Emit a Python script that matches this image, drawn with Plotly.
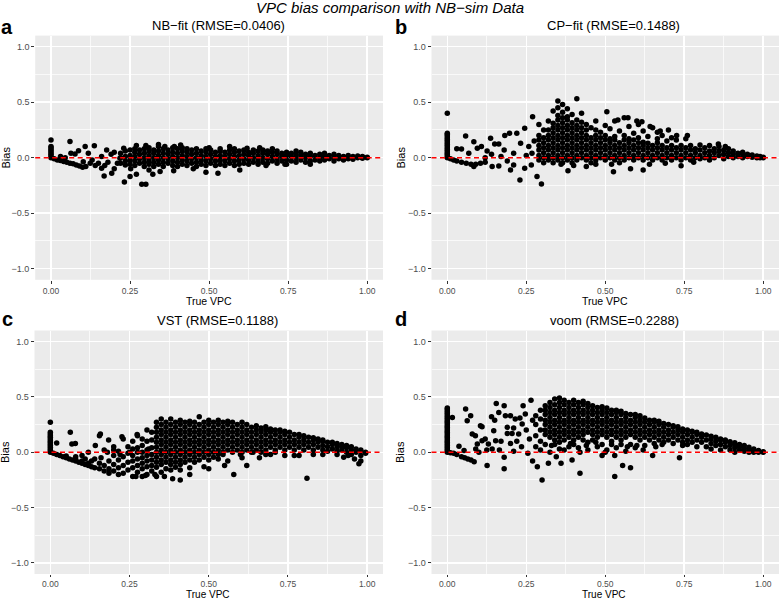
import plotly.graph_objects as go

FIG_TITLE = "VPC bias comparison with NB−sim Data"
PANEL_TITLES = ["NB−fit (RMSE=0.0406)", "CP−fit (RMSE=0.1488)",
                "VST (RMSE=0.1188)", "voom (RMSE=0.2288)"]
PANEL_LETTERS = ["a", "b", "c", "d"]
X_LABEL = "True VPC"
Y_LABEL = "Bias"
X_TICKS = [0, 0.25, 0.5, 0.75, 1.0]
X_TICK_LABELS = ["0.00", "0.25", "0.50", "0.75", "1.00"]
Y_TICKS = [-1, -0.5, 0, 0.5, 1]
Y_TICK_LABELS = ["−1.0", "−0.5", "0.0", "0.5", "1.0"]

# ---------------- panel a: NB-fit ----------------
NB_ZERO_Y = [0.0, 0.015, 0.03, 0.045, 0.06, 0.075, 0.09, 0.1, 0.16]
NB_POINTS = [
    (0.01, -0.01), (0.02, -0.02), (0.03, -0.025), (0.04, -0.035), (0.05, -0.04), (0.06, -0.05),
    (0.07, -0.055), (0.08, -0.065), (0.09, -0.075), (0.1, -0.085), (0.11, -0.08),
    (0.06, 0.145), (0.108, 0.1), (0.137, 0.108), (0.076, 0.033), (0.087, 0.063), (0.063, 0.04),
    (0.03, 0.01), (0.045, 0.0), (0.118, 0.04), (0.176, 0.07), (0.2, 0.05), (0.23, 0.085),
    (0.27, 0.11), (0.3, 0.11), (0.34, 0.12), (0.41, 0.115), (0.565, 0.1), (0.62, 0.085),
    (0.168, -0.165), (0.192, -0.14), (0.2, -0.1), (0.232, -0.22), (0.25, -0.17), (0.27, -0.15),
    (0.287, -0.24), (0.3, -0.24), (0.252, -0.1), (0.322, -0.15), (0.31, -0.11), (0.345, -0.125),
    (0.388, -0.117), (0.49, -0.13), (0.528, -0.14), (0.597, -0.11), (0.16, -0.095), (0.15, -0.05),
    (0.124, -0.05), (0.102, -0.036), (0.218, -0.005), (0.235, -0.066), (0.13, -0.02), (0.14, -0.07),
    (0.18, -0.04), (0.19, 0.03), (0.16, 0.01), (0.21, -0.05), (0.17, -0.07), (0.74, -0.06),
    (0.82, -0.06), (0.68, -0.07), (0.45, -0.1), (0.36, 0.1), (0.39, 0.1), (0.5, 0.09),
    (0.7, 0.08), (0.66, 0.09),
]
NB_COLS = [
    (0.22, [-0.05, 0.0, 0.04]), (0.235, [-0.03, 0.01, 0.06]), (0.25, [-0.06, -0.02, 0.02, 0.07]),
    (0.265, [-0.07, -0.03, 0.01, 0.05, 0.08]), (0.28, [-0.05, -0.01, 0.03, 0.07]),
    (0.295, [-0.08, -0.04, 0.0, 0.04, 0.08]), (0.31, [-0.06, -0.02, 0.02, 0.06, 0.09]),
    (0.325, [-0.08, -0.04, 0.0, 0.04, 0.07]), (0.34, [-0.06, -0.02, 0.02, 0.06, 0.1]),
    (0.355, [-0.08, -0.04, 0.0, 0.04, 0.08]), (0.37, [-0.05, -0.01, 0.03, 0.07]),
    (0.385, [-0.07, -0.03, 0.01, 0.05, 0.09]), (0.4, [-0.08, -0.04, 0.0, 0.04, 0.08]),
    (0.415, [-0.06, -0.02, 0.02, 0.06, 0.09]), (0.43, [-0.07, -0.03, 0.01, 0.05, 0.08]),
    (0.445, [-0.05, -0.01, 0.03, 0.07]), (0.46, [-0.08, -0.04, 0.0, 0.04, 0.08]),
    (0.475, [-0.06, -0.02, 0.02, 0.06]), (0.49, [-0.07, -0.03, 0.01, 0.05, 0.08]),
    (0.505, [-0.05, -0.01, 0.03, 0.07]), (0.52, [-0.07, -0.03, 0.01, 0.05]),
    (0.535, [-0.06, -0.02, 0.02, 0.06, 0.08]), (0.55, [-0.07, -0.03, 0.01, 0.05]),
    (0.565, [-0.05, -0.01, 0.03, 0.07]), (0.58, [-0.07, -0.03, 0.01, 0.05, 0.08]),
    (0.595, [-0.06, -0.02, 0.02, 0.06]), (0.61, [-0.05, -0.01, 0.03, 0.07]),
    (0.625, [-0.06, -0.02, 0.02, 0.05]), (0.64, [-0.04, 0.0, 0.04, 0.07]),
    (0.655, [-0.06, -0.02, 0.02, 0.06]), (0.67, [-0.04, 0.0, 0.04, 0.07]),
    (0.685, [-0.05, -0.01, 0.03, 0.06]), (0.7, [-0.03, 0.01, 0.05]),
    (0.715, [-0.05, -0.01, 0.03, 0.06]), (0.73, [-0.03, 0.01, 0.04]),
    (0.745, [-0.06, -0.02, 0.02, 0.05]), (0.76, [-0.03, 0.01, 0.04]),
    (0.775, [-0.04, 0.0, 0.03, 0.06]), (0.79, [-0.02, 0.02, 0.05]),
    (0.805, [-0.04, 0.0, 0.03]), (0.82, [-0.03, 0.01, 0.04]), (0.835, [-0.02, 0.02]),
    (0.85, [-0.03, 0.0, 0.03]), (0.865, [-0.02, 0.01, 0.04]), (0.88, [-0.01, 0.02]),
    (0.895, [-0.03, 0.0, 0.03]), (0.91, [-0.01, 0.02]), (0.925, [-0.02, 0.01]),
    (0.94, [-0.01, 0.02]), (0.955, [-0.015, 0.01]), (0.97, [0.0, 0.015]),
    (0.985, [-0.005, 0.01]), (1.0, [0.0, 0.005]),
]

# ---------------- panel b: CP-fit ----------------
CP_ZERO_Y = [0.0, 0.015, 0.03, 0.045, 0.06, 0.075, 0.09, 0.105, 0.12, 0.135, 0.15, 0.165,
             0.18, 0.195, 0.21, 0.22, 0.4]
CP_POINTS = [
    (0.01, -0.01), (0.02, -0.02), (0.03, -0.03), (0.045, -0.04), (0.06, -0.05), (0.075, -0.06),
    (0.09, -0.06), (0.105, -0.05), (0.12, -0.04),
    (0.03, 0.08), (0.045, 0.078), (0.058, 0.195), (0.084, 0.144), (0.068, 0.04), (0.095, 0.085),
    (0.108, 0.1), (0.126, 0.06), (0.137, 0.175), (0.15, 0.123), (0.163, 0.123), (0.182, 0.2),
    (0.197, 0.22), (0.22, 0.22), (0.245, 0.265), (0.27, 0.37), (0.29, 0.3), (0.284, -0.17),
    (0.298, -0.237), (0.23, -0.2), (0.245, -0.096), (0.21, -0.066), (0.2, -0.11), (0.163, -0.075),
    (0.142, -0.08), (0.084, -0.08), (0.21, 0.04), (0.232, 0.13), (0.258, 0.1), (0.268, 0.04),
    (0.266, -0.066), (0.382, -0.117), (0.526, -0.126), (0.62, -0.11), (0.74, -0.072),
    (0.505, 0.415), (0.54, 0.34), (0.572, 0.36), (0.6, 0.33), (0.616, 0.325), (0.642, 0.28),
    (0.674, 0.24), (0.7, 0.25), (0.726, 0.2), (0.76, 0.2), (0.8, 0.114), (0.858, 0.123),
    (0.88, 0.1), (0.18, 0.07), (0.17, 0.01), (0.14, 0.03), (0.12, 0.0), (0.19, -0.03),
    (0.25, 0.02), (0.275, 0.15), (0.44, -0.08), (0.47, -0.06), (0.58, -0.1), (0.36, -0.06),
    (0.4, -0.07), (0.52, -0.06), (0.64, -0.06), (0.69, -0.05), (0.78, -0.04),
]
CP_COLS = [
    (0.29, [-0.02, 0.02, 0.07, 0.11, 0.16, 0.2]),
    (0.305, [-0.045, 0.0, 0.045, 0.09, 0.135, 0.18, 0.25]),
    (0.32, [-0.02, 0.02, 0.07, 0.11, 0.16, 0.2, 0.25, 0.33]),
    (0.335, [-0.045, 0.0, 0.045, 0.09, 0.135, 0.18, 0.225, 0.27, 0.31, 0.42]),
    (0.35, [-0.02, 0.02, 0.07, 0.11, 0.16, 0.2, 0.25, 0.29, 0.34, 0.38, 0.45, 0.51]),
    (0.365, [-0.045, 0.0, 0.045, 0.09, 0.135, 0.18, 0.225, 0.27, 0.315, 0.36, 0.41, 0.48]),
    (0.38, [-0.02, 0.02, 0.07, 0.11, 0.16, 0.2, 0.25, 0.29, 0.34, 0.37, 0.44]),
    (0.395, [-0.045, 0.0, 0.045, 0.09, 0.135, 0.18, 0.225, 0.27, 0.315, 0.39]),
    (0.41, [-0.02, 0.02, 0.07, 0.11, 0.16, 0.2, 0.25, 0.29, 0.34, 0.53]),
    (0.425, [0.0, 0.045, 0.09, 0.135, 0.18, 0.225, 0.27, 0.32, 0.4]),
    (0.44, [-0.02, 0.02, 0.07, 0.11, 0.16, 0.2, 0.25, 0.3]),
    (0.455, [-0.045, 0.0, 0.045, 0.09, 0.135, 0.18, 0.27]),
    (0.47, [-0.02, 0.02, 0.07, 0.11, 0.16, 0.2, 0.25, 0.33]),
    (0.485, [0.0, 0.045, 0.09, 0.135, 0.18, 0.23]),
    (0.5, [-0.02, 0.02, 0.07, 0.11, 0.16, 0.2, 0.29]),
    (0.515, [0.0, 0.045, 0.09, 0.135, 0.17, 0.26]),
    (0.53, [-0.02, 0.02, 0.07, 0.11, 0.16, 0.19, 0.33]),
    (0.545, [-0.045, 0.0, 0.045, 0.09, 0.135, 0.24]),
    (0.56, [-0.02, 0.02, 0.07, 0.11, 0.16, 0.2, 0.36]),
    (0.575, [0.0, 0.045, 0.09, 0.135, 0.17, 0.28]),
    (0.59, [-0.02, 0.02, 0.07, 0.11, 0.16, 0.22]),
    (0.605, [0.0, 0.045, 0.09, 0.135, 0.18, 0.3]),
    (0.62, [-0.02, 0.02, 0.07, 0.11, 0.14, 0.24]),
    (0.635, [0.0, 0.045, 0.09, 0.13, 0.19]),
    (0.65, [-0.02, 0.02, 0.07, 0.11, 0.27]),
    (0.665, [0.0, 0.045, 0.09, 0.135, 0.17, 0.23]),
    (0.68, [-0.02, 0.02, 0.07, 0.11, 0.2]),
    (0.695, [0.0, 0.045, 0.09, 0.15]),
    (0.71, [-0.02, 0.02, 0.07, 0.11, 0.18]),
    (0.725, [0.0, 0.045, 0.09, 0.16]),
    (0.74, [-0.02, 0.02, 0.07, 0.11]),
    (0.755, [0.0, 0.045, 0.09, 0.17]),
    (0.77, [-0.02, 0.02, 0.07, 0.11]),
    (0.785, [0.0, 0.045, 0.08]),
    (0.8, [-0.01, 0.02, 0.07]),
    (0.815, [0.0, 0.045, 0.09]),
    (0.83, [-0.02, 0.02, 0.06, 0.11]),
    (0.845, [0.0, 0.045, 0.08]),
    (0.86, [0.02, 0.06, 0.1]),
    (0.875, [-0.01, 0.03, 0.07]),
    (0.89, [0.01, 0.045, 0.08]),
    (0.905, [0.0, 0.03, 0.06]),
    (0.92, [0.01, 0.04]),
    (0.935, [0.0, 0.03, 0.05]),
    (0.95, [0.01, 0.03]),
    (0.965, [0.005, 0.025]),
    (0.98, [0.0, 0.015]),
    (0.99, [0.0, 0.01]),
    (1.0, [0.0, 0.005]),
]

# ---------------- panel c: VST ----------------
VST_ZERO_Y = [0.0, 0.015, 0.03, 0.045, 0.06, 0.075, 0.09, 0.105, 0.12, 0.135, 0.15, 0.165,
              0.18, 0.27]
VST_POINTS = [
    (0.01, -0.01), (0.02, -0.02), (0.03, -0.03), (0.04, -0.04), (0.05, -0.05), (0.06, -0.06),
    (0.07, -0.07), (0.08, -0.08), (0.09, -0.09), (0.1, -0.1), (0.11, -0.11), (0.12, -0.12),
    (0.13, -0.13), (0.14, -0.14), (0.05, -0.035), (0.08, -0.065), (0.1, -0.08), (0.12, -0.1),
    (0.02, 0.084), (0.063, 0.18), (0.068, 0.075), (0.079, 0.08), (0.158, 0.165), (0.184, 0.11),
    (0.226, 0.14), (0.274, 0.16), (0.142, 0.06), (0.41, -0.25), (0.386, -0.24), (0.81, -0.234),
    (0.579, -0.2), (0.62, -0.12), (0.974, -0.105), (0.98, -0.08), (0.926, -0.045), (0.5, -0.15),
    (0.12, 0.0), (0.1, -0.03), (0.08, -0.04), (0.13, -0.08), (0.11, -0.06), (0.16, -0.05),
    (0.18, 0.0), (0.2, 0.02), (0.22, -0.02), (0.25, 0.0), (0.29, 0.12), (0.31, 0.03),
    (0.44, -0.2), (0.36, -0.22), (0.33, -0.2), (0.27, -0.22), (0.3, -0.21), (0.71, 0.0),
    (0.77, -0.03), (0.86, -0.02), (0.68, -0.02), (0.66, -0.05), (0.55, -0.12), (0.64, 0.0),
    (0.6, -0.02), (0.96, -0.06), (0.94, -0.03), (0.14, -0.06), (0.155, -0.15), (0.155, -0.1),
    (0.155, 0.15), (0.17, -0.17), (0.17, -0.12), (0.17, 0.02), (0.185, -0.19), (0.185, -0.15),
    (0.185, -0.08),
]
VST_COLS = [
    (0.2, [-0.17, -0.11, -0.03, 0.05]), (0.215, [-0.2, -0.14, -0.07, 0.01]),
    (0.23, [-0.19, -0.12, -0.04, 0.12]), (0.245, [-0.16, -0.09, -0.01, 0.05]),
    (0.26, [-0.22, -0.14, -0.08, -0.03, 0.03, 0.1]),
    (0.275, [-0.18, -0.12, -0.06, 0.0, 0.04, 0.15]),
    (0.29, [-0.22, -0.15, -0.1, -0.05, 0.0, 0.06]),
    (0.305, [-0.2, -0.13, -0.08, -0.03, 0.02, 0.1, 0.2]),
    (0.32, [-0.17, -0.12, -0.07, -0.02, 0.04, 0.11, 0.18]),
    (0.335, [-0.22, -0.135, -0.09, -0.045, 0.0, 0.045, 0.09, 0.135, 0.18, 0.225, 0.27]),
    (0.35, [-0.18, -0.11, -0.07, -0.02, 0.02, 0.07, 0.11, 0.16, 0.2, 0.25, 0.3]),
    (0.365, [-0.15, -0.09, -0.045, 0.0, 0.045, 0.09, 0.135, 0.18, 0.225, 0.27]),
    (0.38, [-0.16, -0.11, -0.07, -0.02, 0.02, 0.07, 0.11, 0.16, 0.2, 0.25, 0.3]),
    (0.395, [-0.135, -0.09, -0.045, 0.0, 0.045, 0.09, 0.135, 0.18, 0.225, 0.27]),
    (0.41, [-0.16, -0.11, -0.07, -0.02, 0.02, 0.07, 0.11, 0.16, 0.2, 0.25, 0.29]),
    (0.425, [-0.09, -0.045, 0.0, 0.045, 0.09, 0.135, 0.18, 0.225, 0.27]),
    (0.44, [-0.14, -0.07, -0.02, 0.02, 0.07, 0.11, 0.16, 0.2, 0.25, 0.28]),
    (0.455, [-0.09, -0.045, 0.0, 0.045, 0.09, 0.135, 0.18, 0.225, 0.27]),
    (0.47, [-0.07, -0.02, 0.02, 0.07, 0.11, 0.16, 0.2, 0.25, 0.32]),
    (0.485, [-0.13, -0.045, 0.0, 0.045, 0.09, 0.135, 0.18, 0.225, 0.27]),
    (0.5, [-0.07, -0.02, 0.02, 0.07, 0.11, 0.16, 0.2, 0.25, 0.29]),
    (0.515, [-0.045, 0.0, 0.045, 0.09, 0.135, 0.18, 0.225, 0.27]),
    (0.53, [-0.06, -0.02, 0.02, 0.07, 0.11, 0.16, 0.2, 0.25, 0.29]),
    (0.545, [-0.02, 0.0, 0.045, 0.09, 0.135, 0.18, 0.225, 0.27]),
    (0.56, [-0.08, 0.02, 0.07, 0.11, 0.16, 0.2, 0.25, 0.28]),
    (0.575, [0.0, 0.045, 0.09, 0.135, 0.18, 0.225, 0.27]),
    (0.59, [0.02, 0.07, 0.11, 0.16, 0.2, 0.25]),
    (0.605, [-0.05, 0.0, 0.045, 0.09, 0.135, 0.18, 0.225, 0.27]),
    (0.62, [0.02, 0.07, 0.11, 0.16, 0.2, 0.25]),
    (0.635, [0.0, 0.045, 0.09, 0.135, 0.18, 0.225]),
    (0.65, [0.02, 0.07, 0.11, 0.16, 0.2, 0.24]),
    (0.665, [0.0, 0.045, 0.09, 0.135, 0.18, 0.22]),
    (0.68, [0.02, 0.07, 0.11, 0.16, 0.2, 0.23]),
    (0.695, [-0.02, 0.045, 0.09, 0.135, 0.18, 0.21]),
    (0.71, [0.02, 0.07, 0.11, 0.16, 0.2]),
    (0.725, [0.045, 0.09, 0.135, 0.18, 0.2]),
    (0.74, [-0.03, 0.02, 0.07, 0.11, 0.16, 0.19]),
    (0.755, [0.045, 0.09, 0.135, 0.18]),
    (0.77, [0.02, 0.07, 0.11, 0.16]),
    (0.785, [-0.03, 0.045, 0.09, 0.135, 0.16]),
    (0.8, [0.02, 0.07, 0.11, 0.15]),
    (0.815, [0.045, 0.09, 0.135]),
    (0.83, [-0.02, 0.02, 0.07, 0.11, 0.13]),
    (0.845, [0.045, 0.09, 0.12]),
    (0.86, [0.02, 0.06, 0.1, 0.11]),
    (0.875, [0.01, 0.05, 0.09]),
    (0.89, [0.03, 0.07, 0.09]),
    (0.905, [-0.02, 0.01, 0.05, 0.08]),
    (0.92, [0.02, 0.05, 0.07]),
    (0.935, [0.0, 0.04, 0.06]),
    (0.95, [-0.02, 0.02, 0.05]),
    (0.965, [0.0, 0.03]),
    (0.98, [-0.03, 0.01, 0.02]),
    (0.995, [-0.01, 0.0]),
]

# ---------------- panel d: voom ----------------
VOOM_ZERO_Y = [0.0, 0.015, 0.03, 0.045, 0.06, 0.075, 0.09, 0.105, 0.12, 0.135, 0.15, 0.165,
               0.18, 0.195, 0.21, 0.225, 0.24, 0.255, 0.27, 0.285, 0.3, 0.315, 0.33, 0.345,
               0.36, 0.375, 0.39, 0.4]
VOOM_POINTS = [
    (0.016, 0.315), (0.058, 0.39), (0.063, 0.285), (0.074, 0.33), (0.037, 0.054), (0.053, 0.015),
    (0.02, -0.01), (0.01, -0.005), (0.03, -0.02), (0.045, -0.04), (0.055, -0.05), (0.065, -0.06),
    (0.075, -0.07), (0.085, -0.085), (0.079, 0.165), (0.089, 0.15), (0.095, 0.075), (0.105, 0.24),
    (0.11, 0.105), (0.12, 0.12), (0.126, -0.12), (0.13, 0.075), (0.142, 0.03), (0.155, 0.44),
    (0.18, 0.42), (0.163, 0.36), (0.147, 0.195), (0.153, 0.105), (0.17, 0.1), (0.18, -0.045),
    (0.18, -0.15), (0.165, 0.02), (0.19, 0.225), (0.184, 0.33), (0.2, 0.08), (0.205, 0.17),
    (0.21, 0.01), (0.215, 0.3), (0.226, 0.165), (0.237, 0.255), (0.247, 0.345), (0.22, 0.1),
    (0.235, 0.05), (0.25, 0.2), (0.255, -0.01), (0.265, 0.47), (0.27, 0.29), (0.26, 0.12),
    (0.27, -0.08), (0.285, -0.13), (0.3, -0.25), (0.32, -0.1), (0.36, -0.1), (0.345, -0.04),
    (0.395, -0.07), (0.42, -0.19), (0.53, -0.22), (0.555, -0.12), (0.58, -0.14), (0.735, -0.05),
    (0.65, -0.03), (0.42, 0.0), (0.37, 0.02), (0.53, -0.03), (0.5, 0.0), (0.6, 0.06),
    (0.62, 0.02), (0.66, 0.05), (0.68, 0.07), (0.57, 0.05), (0.125, 0.02), (0.1, 0.0),
    (0.09, 0.03), (0.11, 0.23), (0.14, 0.32), (0.2, 0.33), (0.23, 0.31), (0.24, 0.42),
    (0.19, 0.17), (0.21, 0.22), (0.15, 0.29), (0.44, 0.06), (0.47, 0.09), (0.52, 0.1),
    (0.55, 0.07), (0.39, 0.08), (0.33, 0.06),
]
VOOM_COLS = [
    (0.28, [0.05, 0.15, 0.25, 0.33]),
    (0.295, [0.02, 0.1, 0.2, 0.3, 0.38]),
    (0.31, [0.07, 0.16, 0.2, 0.25, 0.29, 0.34, 0.38, 0.42]),
    (0.325, [0.0, 0.135, 0.18, 0.225, 0.27, 0.315, 0.36, 0.405, 0.45]),
    (0.34, [0.07, 0.11, 0.16, 0.2, 0.25, 0.29, 0.34, 0.38, 0.43, 0.48]),
    (0.355, [0.03, 0.09, 0.135, 0.18, 0.225, 0.27, 0.315, 0.36, 0.405, 0.45, 0.49]),
    (0.37, [0.11, 0.16, 0.2, 0.25, 0.29, 0.34, 0.38, 0.43, 0.47]),
    (0.385, [0.05, 0.135, 0.18, 0.225, 0.27, 0.315, 0.36, 0.405, 0.45]),
    (0.4, [0.07, 0.11, 0.16, 0.2, 0.25, 0.29, 0.34, 0.38, 0.43, 0.47]),
    (0.415, [0.04, 0.135, 0.18, 0.225, 0.27, 0.315, 0.36, 0.405, 0.45]),
    (0.43, [0.11, 0.16, 0.2, 0.25, 0.29, 0.34, 0.38, 0.43, 0.46]),
    (0.445, [0.02, 0.09, 0.18, 0.225, 0.27, 0.315, 0.36, 0.405, 0.44]),
    (0.46, [0.11, 0.16, 0.2, 0.25, 0.29, 0.34, 0.38, 0.42]),
    (0.475, [0.05, 0.135, 0.18, 0.225, 0.27, 0.315, 0.36, 0.405]),
    (0.49, [-0.03, 0.07, 0.16, 0.2, 0.25, 0.29, 0.34, 0.38, 0.41]),
    (0.505, [0.02, 0.135, 0.18, 0.225, 0.27, 0.315, 0.36, 0.4]),
    (0.52, [0.07, 0.16, 0.2, 0.25, 0.29, 0.34, 0.38]),
    (0.535, [0.04, 0.135, 0.18, 0.225, 0.27, 0.315, 0.36, 0.38]),
    (0.55, [0.11, 0.16, 0.2, 0.25, 0.29, 0.34, 0.37]),
    (0.565, [0.01, 0.135, 0.18, 0.225, 0.27, 0.315, 0.35]),
    (0.58, [0.07, 0.16, 0.2, 0.25, 0.29, 0.34]),
    (0.595, [0.04, 0.135, 0.18, 0.225, 0.27, 0.315, 0.34]),
    (0.61, [0.11, 0.16, 0.2, 0.25, 0.29, 0.33]),
    (0.625, [0.06, 0.135, 0.18, 0.225, 0.27, 0.31]),
    (0.64, [0.11, 0.16, 0.2, 0.25, 0.29]),
    (0.655, [0.08, 0.135, 0.18, 0.225, 0.27, 0.29]),
    (0.67, [0.11, 0.16, 0.2, 0.25, 0.28]),
    (0.685, [0.09, 0.135, 0.18, 0.225, 0.26]),
    (0.7, [0.11, 0.16, 0.2, 0.25]),
    (0.715, [0.08, 0.135, 0.18, 0.225, 0.24]),
    (0.73, [0.11, 0.16, 0.2, 0.23]),
    (0.745, [0.06, 0.09, 0.135, 0.18, 0.21]),
    (0.76, [0.07, 0.11, 0.16, 0.2]),
    (0.775, [0.09, 0.135, 0.18, 0.19]),
    (0.79, [0.05, 0.11, 0.16, 0.18]),
    (0.805, [0.09, 0.135, 0.165]),
    (0.82, [0.05, 0.11, 0.155]),
    (0.835, [0.03, 0.08, 0.12, 0.145]),
    (0.85, [0.06, 0.1, 0.135]),
    (0.865, [0.02, 0.07, 0.11, 0.12]),
    (0.88, [0.05, 0.09, 0.11]),
    (0.895, [0.02, 0.06, 0.095]),
    (0.91, [0.0, 0.04, 0.07, 0.085]),
    (0.925, [0.02, 0.05, 0.07]),
    (0.94, [0.01, 0.035, 0.06]),
    (0.955, [0.0, 0.02, 0.045]),
    (0.97, [0.0, 0.02, 0.03]),
    (0.985, [0.0, 0.01, 0.015]),
    (1.0, [0.0, 0.005]),
]

PANELS = [
    (NB_ZERO_Y, NB_POINTS, NB_COLS),
    (CP_ZERO_Y, CP_POINTS, CP_COLS),
    (VST_ZERO_Y, VST_POINTS, VST_COLS),
    (VOOM_ZERO_Y, VOOM_POINTS, VOOM_COLS),
]

W, H = 779, 601
FONT = "Liberation Sans, Arial, Helvetica, sans-serif"

# pixel geometry of the four panels (left, right, top, bottom)
BOXES = [
    (35.2, 383.0, 35.6, 279.8),
    (431.5, 779.0, 35.6, 279.8),
    (34.5, 383.0, 330.5, 574.0),
    (431.5, 779.0, 330.5, 574.0),
]

fig = go.Figure()
for i, (zero_y, pts, cols) in enumerate(PANELS):
    xs, ys = [], []
    for yv in zero_y:
        xs.append(0.0)
        ys.append(yv)
    for xv, yv in pts:
        xs.append(xv)
        ys.append(yv)
    for xv, ylist in cols:
        for yv in ylist:
            xs.append(xv)
            ys.append(yv)
    sfx = "" if i == 0 else str(i + 1)
    fig.add_trace(go.Scatter(
        x=xs, y=ys, mode="markers", xaxis="x" + sfx, yaxis="y" + sfx,
        marker=dict(color="black", size=5.5, line=dict(width=0)),
        showlegend=False, hoverinfo="skip"))

layout = dict(
    width=W, height=H, margin=dict(l=0, r=0, t=0, b=0),
    paper_bgcolor="white", plot_bgcolor="#EBEBEB",
    font=dict(family=FONT, color="black"),
    showlegend=False,
)

annotations = []
shapes = []
for i, (l, r, t, b) in enumerate(BOXES):
    sfx = "" if i == 0 else str(i + 1)
    xa = dict(
        domain=[l / W, r / W], range=[-0.05, 1.05], anchor="y" + sfx,
        tickmode="array", tickvals=X_TICKS, ticktext=X_TICK_LABELS,
        ticks="outside", ticklen=(3 if i < 2 else 2), tickwidth=1, tickcolor="#333333",
        tickfont=dict(size=8.5, color="#4D4D4D", family=FONT),
        showgrid=True, gridcolor="white", gridwidth=1.5, zeroline=False,
        showline=False,
        minor=dict(tickmode="array", tickvals=[0.125, 0.375, 0.625, 0.875],
                   showgrid=True, gridcolor="white", gridwidth=0.7, ticks=""),
    )
    ya = dict(
        domain=[1 - b / H, 1 - t / H], range=[-1.1, 1.1], anchor="x" + sfx,
        tickmode="array", tickvals=Y_TICKS, ticktext=Y_TICK_LABELS,
        ticks="outside", ticklen=3, tickwidth=1, tickcolor="#333333",
        tickfont=dict(size=9, color="#4D4D4D", family=FONT),
        showgrid=True, gridcolor="white", gridwidth=1.5, zeroline=False,
        showline=False,
        minor=dict(tickmode="array", tickvals=[-0.75, -0.25, 0.25, 0.75],
                   showgrid=True, gridcolor="white", gridwidth=0.7, ticks=""),
    )
    layout["xaxis" + sfx] = xa
    layout["yaxis" + sfx] = ya
    shapes.append(dict(type="line", xref="x" + sfx + " domain", yref="y" + sfx,
                       x0=0, x1=1, y0=0, y1=0, layer="above",
                       line=dict(color="#FF0000", width=1.4, dash="5px,3.5px")))

TITLE_POS = [(218, 26), (613, 26), (217.5, 320), (614.5, 320)]
LETTER_POS = [(7, 27), (401, 27), (7, 319), (401, 319)]
XLAB_POS = [(209, 301), (605, 301), (208, 601), (604, 601)]
XLAB_SIZE = [10.5, 10.5, 10, 10]
YLAB_POS = [(5, 157.5), (400, 157.5), (5, 452), (400, 452)]

for i in range(4):
    tx, ty = TITLE_POS[i]
    annotations.append(dict(text=PANEL_TITLES[i], x=tx / W, y=1 - ty / H, xref="paper",
                            yref="paper", xanchor="center", yanchor="middle", showarrow=False,
                            font=dict(size=13, color="black", family=FONT)))
    lx, ly = LETTER_POS[i]
    annotations.append(dict(text="<b>" + PANEL_LETTERS[i] + "</b>", x=lx / W, y=1 - ly / H,
                            xref="paper", yref="paper", xanchor="center", yanchor="middle",
                            showarrow=False, borderpad=0,
                            font=dict(size=20, color="black", family=FONT)))
    xx, xy = XLAB_POS[i]
    annotations.append(dict(text=X_LABEL, x=xx / W, y=1 - xy / H, xref="paper", yref="paper",
                            xanchor="center", yanchor=("middle" if i < 2 else "bottom"),
                            showarrow=False, borderpad=0,
                            font=dict(size=XLAB_SIZE[i], color="black", family=FONT)))
    yx, yy = YLAB_POS[i]
    annotations.append(dict(text=Y_LABEL, x=yx / W, y=1 - yy / H, xref="paper", yref="paper",
                            xanchor="center", yanchor="middle", showarrow=False, textangle=-90,
                            font=dict(size=11, color="black", family=FONT)))

annotations.append(dict(text="<i>" + FIG_TITLE + "</i>", x=0.5, y=1 - 8 / H, xref="paper",
                        yref="paper", xanchor="center", yanchor="middle", showarrow=False,
                        borderpad=0, font=dict(size=15, color="black", family=FONT)))

layout["annotations"] = annotations
layout["shapes"] = shapes
fig.update_layout(**layout)
fig.write_html("out.html", config={"displayModeBar": False, "staticPlot": True},
               post_script="document.body.style.margin='0px';document.body.style.overflow='hidden';")
